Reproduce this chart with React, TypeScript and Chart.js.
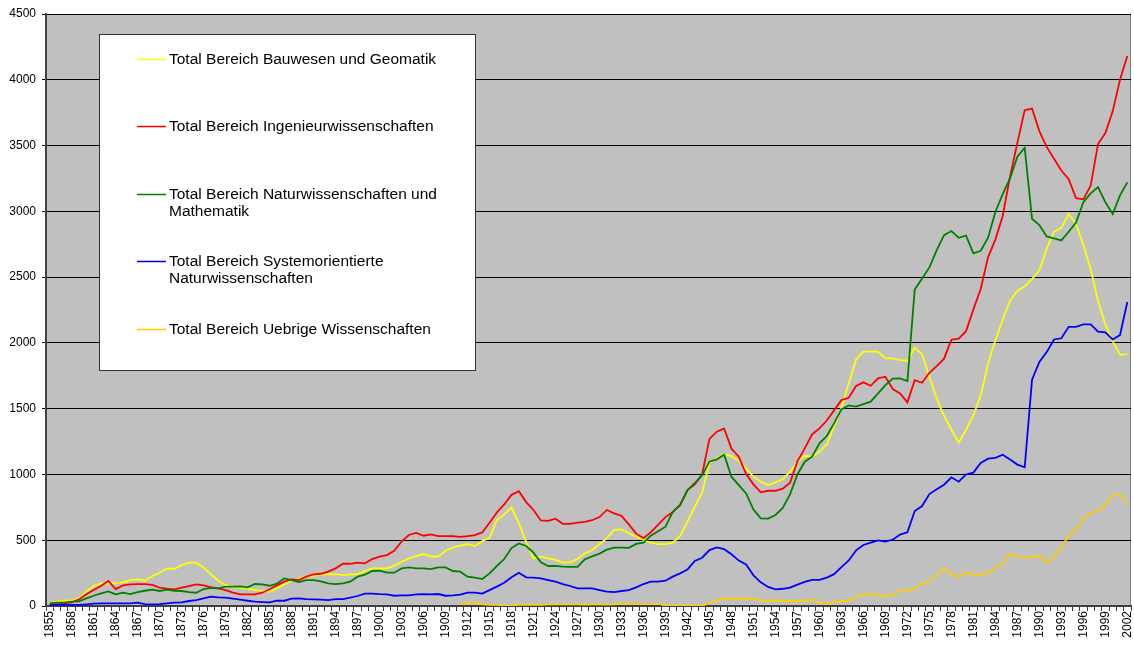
import React, { useEffect, useRef } from 'react';
import { Chart, registerables } from 'chart.js';

Chart.register(...registerables);

const firstYear = 1855;
const lastYear = 2002;
const years: string[] = [];
for (let y = firstYear; y <= lastYear; y++) years.push(String(y));
const labelEvery = 3;

const seriesNames: string[][] = [
  ['Total Bereich Bauwesen und Geomatik'],
  ['Total Bereich Ingenieurwissenschaften'],
  ['Total Bereich Naturwissenschaften und', 'Mathematik'],
  ['Total Bereich Systemorientierte', 'Naturwissenschaften'],
  ['Total Bereich Uebrige Wissenschaften'],
];
const seriesColors = ['#FFFF00', '#FF0000', '#008000', '#0000FF', '#FFCC00'];

// 1855 .. 2002
const bauwesen: (number | null)[] = [
  20, 33, 40, 40, 58,
  109, 152, 172, 172, 172, 180, 197, 202, 192, 228,
  253, 283, 283, 311, 329, 329, 293, 240, 192, 160,
  142, 139, 132, 121, 116, 109, 134, 164, 192, 207,
  223, 230, 240, 240, 243, 235, 240, 240, 266, 286,
  286, 286, 306, 336, 362, 380, 395, 375, 375, 420,
  443, 458, 471, 455, 493, 519, 653, 696, 748, 628,
  488, 362, 375, 362, 350, 332, 332, 357, 400, 426,
  471, 514, 578, 583, 552, 527, 502, 481, 471, 471,
  481, 532, 641, 755, 861, 1089, 1122, 1155, 1140, 1105,
  1046, 983, 945, 919, 940, 965, 1021, 1097, 1142, 1135,
  1173, 1229, 1363, 1502, 1692, 1874, 1933, 1933, 1933, 1882,
  1882, 1869, 1864, 1963, 1913, 1743, 1578, 1446, 1342, 1241,
  1340, 1450, 1600, 1840, 2020, 2176, 2320, 2395, 2431, 2485,
  2551, 2716, 2845, 2875, 2980, 2905, 2746, 2560, 2320, 2140,
  2014, 1909, 1915,
];

const ingenieur: (number | null)[] = [
  10, 15, 20, 28, 50,
  89, 121, 152, 190, 129, 157, 164, 167, 167, 160,
  139, 132, 127, 139, 152, 164, 157, 144, 134, 121,
  101, 89, 89, 89, 101, 127, 157, 185, 202, 197,
  223, 240, 245, 261, 286, 321, 321, 329, 324, 357,
  375, 387, 420, 490, 540, 555, 534, 544, 531, 531,
  531, 526, 531, 539, 559, 633, 711, 772, 845, 873,
  790, 730, 650, 647, 664, 625, 624, 633, 640, 652,
  676, 730, 704, 685, 620, 550, 516, 560, 618, 676,
  714, 770, 882, 925, 1000, 1270, 1325, 1350, 1196, 1135,
  1003, 925, 864, 876, 876, 892, 938, 1100, 1198, 1304,
  1350, 1410, 1487, 1565, 1583, 1672, 1700, 1674, 1730, 1743,
  1649, 1616, 1548, 1717, 1697, 1773, 1824, 1880, 2024, 2032,
  2089, 2255, 2410, 2650, 2785, 2965, 3265, 3520, 3769, 3781,
  3610, 3490, 3400, 3310, 3244, 3100, 3091, 3196, 3511, 3595,
  3760, 4000, 4180,
];

const naturwiss: (number | null)[] = [
  20, 25, 25, 33, 35,
  58, 78, 96, 111, 89, 101, 91, 106, 116, 124,
  114, 124, 116, 114, 106, 101, 129, 137, 134, 147,
  147, 149, 142, 167, 164, 154, 170, 210, 197, 182,
  197, 197, 187, 172, 167, 172, 185, 223, 238, 266,
  268, 253, 253, 286, 293, 286, 286, 281, 293, 293,
  266, 261, 223, 215, 205, 248, 304, 357, 440, 476,
  456, 405, 333, 304, 305, 299, 297, 297, 355, 377,
  398, 428, 444, 444, 442, 472, 482, 535, 568, 603,
  716, 767, 880, 935, 995, 1097, 1115, 1150, 983, 919,
  856, 733, 666, 664, 692, 746, 850, 1000, 1097, 1135,
  1236, 1292, 1388, 1494, 1525, 1515, 1535, 1553, 1616, 1679,
  1728, 1730, 1710, 2406, 2490, 2574, 2705, 2819, 2850, 2799,
  2815, 2680, 2700, 2800, 2995, 3130, 3250, 3415, 3484, 2944,
  2896, 2809, 2794, 2779, 2845, 2914, 3070, 3136, 3184, 3070,
  2980, 3121, 3220,
];

const systemorient: (number | null)[] = [
  5, 8, 8, 8, 8,
  13, 18, 20, 20, 20, 20, 20, 25, 15, 13,
  15, 20, 25, 28, 38, 45, 58, 71, 66, 63,
  56, 48, 40, 33, 30, 28, 40, 40, 56, 58,
  53, 51, 48, 45, 53, 53, 63, 76, 94, 94,
  90, 89, 78, 81, 81, 89, 91, 89, 91, 78,
  81, 86, 101, 101, 94, 121, 147, 177, 218, 253,
  218, 215, 210, 197, 185, 167, 152, 134, 134, 134,
  121, 109, 106, 114, 121, 142, 167, 185, 185, 192,
  223, 248, 278, 342, 367, 425, 446, 432, 393, 345,
  315, 233, 180, 145, 127, 131, 140, 163, 183, 198,
  198, 216, 242, 296, 346, 423, 464, 481, 498, 489,
  504, 543, 560, 722, 760, 851, 887, 922, 978, 945,
  1000, 1014, 1088, 1120, 1126, 1150, 1114, 1075, 1054, 1720,
  1855, 1930, 2026, 2035, 2122, 2122, 2140, 2140, 2086, 2080,
  2026, 2059, 2311,
];

const uebrige: (number | null)[] = [
  null, null, null, null, null,
  null, null, null, null, null, null, null, null, null, null,
  null, null, null, null, null, null, null, null, null, null,
  null, null, null, null, null, null, null, null, null, null,
  null, null, null, null, null, null, null, null, null, null,
  null, null, null, null, null, null, null, null, null, null,
  null, 15, 20, 25, 13, 8, 8, 0, 0, 10,
  8, 8, 8, 13, 13, 13, 13, 13, 10, 13,
  13, 10, 13, 18, 18, 15, 15, 15, 18, 3,
  3, 3, 3, 3, 3, 20, 45, 58, 53, 58,
  55, 53, 40, 43, 40, 40, 38, 38, 40, 51,
  25, 15, 30, 38, 40, 76, 83, 96, 81, 76,
  81, 121, 116, 134, 172, 190, 235, 286, 240, 223,
  256, 238, 238, 248, 293, 319, 395, 380, 362, 374,
  382, 329, 374, 450, 531, 582, 665, 703, 724, 767,
  842, 850, 774,
];

const seriesValues = [bauwesen, ingenieur, naturwiss, systemorient, uebrige];

const FONT = '"Liberation Sans", Arial, Helvetica, sans-serif';

const backgroundPlugin = {
  id: 'plotBackground',
  beforeDraw(chart: any) {
    const { ctx, chartArea, width, height } = chart;
    ctx.save();
    ctx.fillStyle = '#ffffff';
    ctx.fillRect(0, 0, width, height);
    ctx.fillStyle = '#C0C0C0';
    ctx.fillRect(chartArea.left, chartArea.top, chartArea.right - chartArea.left, chartArea.bottom - chartArea.top);
    ctx.strokeStyle = '#808080';
    ctx.lineWidth = 1;
    ctx.strokeRect(chartArea.left + 0.5, chartArea.top + 0.5, chartArea.right - chartArea.left - 1, chartArea.bottom - chartArea.top);
    ctx.restore();
  },
};

const boxLegendPlugin = {
  id: 'boxLegend',
  afterDraw(chart: any) {
    const ctx = chart.ctx;
    const box = { x: 99.5, y: 34.5, w: 376, h: 336 };
    const entryY = [59.5, 126.5, 194.5, 261.5, 329.5];
    const lineGap = 17.4;
    ctx.save();
    ctx.fillStyle = '#ffffff';
    ctx.fillRect(box.x, box.y, box.w, box.h);
    ctx.strokeStyle = '#333333';
    ctx.lineWidth = 1;
    ctx.strokeRect(box.x, box.y, box.w, box.h);
    ctx.font = '15.5px ' + FONT;
    ctx.textBaseline = 'middle';
    ctx.textAlign = 'left';
    seriesNames.forEach((lines, i) => {
      const y = entryY[i];
      ctx.strokeStyle = seriesColors[i];
      ctx.lineWidth = 1.5;
      ctx.beginPath();
      ctx.moveTo(137, y);
      ctx.lineTo(166, y);
      ctx.stroke();
      ctx.fillStyle = '#000000';
      lines.forEach((t, j) => ctx.fillText(t, 169, y + j * lineGap));
    });
    ctx.restore();
  },
};

export default function App() {
  const canvasRef = useRef<HTMLCanvasElement | null>(null);

  useEffect(() => {
    const canvas = canvasRef.current;
    if (!canvas) return;
    const chart = new Chart(canvas, {
      type: 'line',
      data: {
        labels: years,
        datasets: seriesValues.map((vals, i) => ({
          label: seriesNames[i].join(' '),
          data: vals,
          borderColor: seriesColors[i],
          backgroundColor: seriesColors[i],
          borderWidth: 1.8,
          pointRadius: 0,
          tension: 0,
          fill: false,
          spanGaps: false,
          order: seriesValues.length - 1 - i,
        })),
      },
      options: {
        animation: false,
        responsive: false,
        devicePixelRatio: 1,
        layout: { padding: { left: 0, right: 3, top: 14, bottom: 0 } },
        plugins: {
          legend: { display: false },
          tooltip: { enabled: false },
          title: { display: false },
        },
        scales: {
          x: {
            type: 'category',
            offset: true,
            grid: {
              offset: true,
              drawOnChartArea: false,
              drawTicks: true,
              tickLength: 5,
              color: '#404040',
            },
            border: { display: true, color: '#404040', width: 2 },
            ticks: {
              autoSkip: false,
              maxRotation: 90,
              minRotation: 90,
              padding: 0,
              color: '#000',
              font: { family: FONT, size: 12 },
              callback: (_v: any, idx: number) => (idx % labelEvery === 0 ? years[idx] : ''),
            },
            afterFit: (scale: any) => {
              scale.height = 41;
              scale.paddingLeft = 0;
              scale.paddingRight = 0;
            },
          },
          y: {
            min: 0,
            max: 4500,
            grid: {
              color: '#000000',
              lineWidth: 1,
              drawTicks: true,
              tickLength: 4,
            },
            border: { display: true, color: '#404040', width: 2 },
            ticks: {
              stepSize: 500,
              padding: 6,
              color: '#000',
              font: { family: FONT, size: 12 },
              callback: (v: any) => String(v),
            },
            afterFit: (scale: any) => {
              scale.width = 46;
              scale.paddingTop = 0;
              scale.paddingBottom = 0;
            },
          },
        },
      },
      plugins: [backgroundPlugin, boxLegendPlugin],
    });
    return () => chart.destroy();
  }, []);

  return (
    <div style={{ position: 'absolute', left: 0, top: 0, width: 1134, height: 647, background: '#fff' }}>
      <canvas ref={canvasRef} width={1134} height={647} />
    </div>
  );
}
